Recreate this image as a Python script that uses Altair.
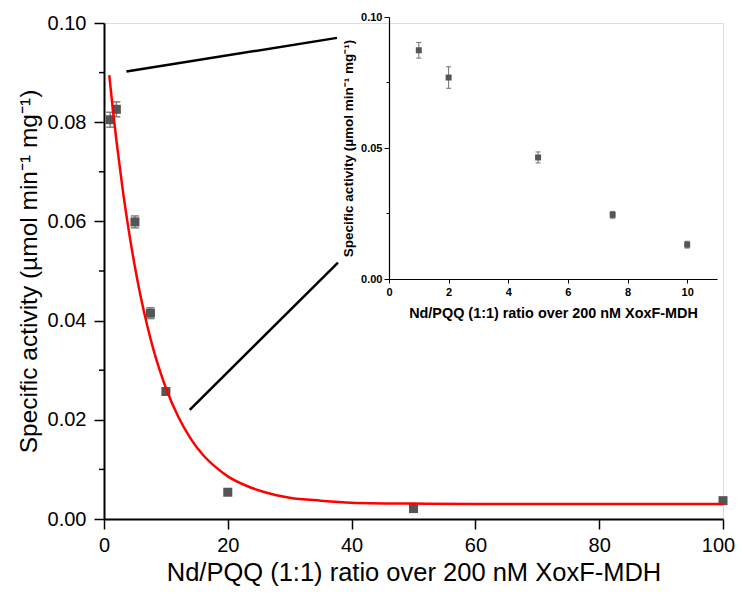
import altair as alt
import pandas as pd

# ---------------- data ----------------
main_x = [1, 2, 5, 7.5, 10, 20, 50, 100]
main_y = [0.0805, 0.0826, 0.0599, 0.0415, 0.0257, 0.0054, 0.0021, 0.0037]
main_err = [0.0015, 0.0015, 0.0012, 0.0011, 0.0005, 0.0003, 0.0003, 0.0006]

fit_x = [0.85, 1, 1.5, 2, 3, 4, 5, 6, 7, 8, 9, 10, 12, 14, 16, 18, 20, 23, 26, 30, 35, 40, 50, 60, 80, 100]
fit_y = [0.0895, 0.0877, 0.0818, 0.0764, 0.0666, 0.0582, 0.0508, 0.0444, 0.0389, 0.0341,
         0.0300, 0.0264, 0.0206, 0.0162, 0.0129, 0.0105, 0.0086, 0.0067, 0.0054, 0.0043,
         0.0037, 0.0033, 0.0031, 0.0030, 0.0030, 0.0030]

inset_x = [1, 2, 5, 7.5, 10]
inset_y = [0.0873, 0.0769, 0.0464, 0.0245, 0.0131]
inset_err = [0.0030, 0.0041, 0.0021, 0.0013, 0.0013]

connector_id = ["a", "a", "b", "b"]
connector_x = [3.62, 37.64, 13.85, 37.8]
connector_y = [0.0902, 0.0970, 0.0220, 0.0517]

main_x_ticks = [0, 20, 40, 60, 80, 100]
main_y_ticks = [0.00, 0.02, 0.04, 0.06, 0.08, 0.10]
main_y_minor = [0.01, 0.03, 0.05, 0.07, 0.09]
inset_x_ticks = [0, 2, 4, 6, 8, 10]
inset_y_ticks = [0.00, 0.05, 0.10]
inset_y_minor = [0.025, 0.075]

x_title = "Nd/PQQ (1:1) ratio over 200 nM XoxF-MDH"
y_title = "Specific activity (\u00b5mol min\u207b\u00b9 mg\u207b\u00b9)"

# ---------------- layout ----------------
W, H = 619, 496
IN_X0, IN_X1 = 285, 613
IN_Y0, IN_Y1 = 256, -6
FONT = "Liberation Sans"

main_df = pd.DataFrame({"x": main_x, "y": main_y, "e": main_err})
main_df["lo"] = main_df["y"] - main_df["e"]
main_df["hi"] = main_df["y"] + main_df["e"]
fit_df = pd.DataFrame({"x": fit_x, "y": fit_y})
in_df = pd.DataFrame({"x": inset_x, "y": inset_y, "e": inset_err})
in_df["lo"] = in_df["y"] - in_df["e"]
in_df["hi"] = in_df["y"] + in_df["e"]
con_df = pd.DataFrame({"id": connector_id, "x": connector_x, "y": connector_y})

mx = alt.Scale(domain=[0, 100], nice=False)
my = alt.Scale(domain=[0, 0.10], nice=False)

x_axis = alt.Axis(values=main_x_ticks, format="d", title=x_title, grid=False, tickSize=10,
                  tickWidth=1.5, domainWidth=2, domainColor="black", tickColor="black",
                  labelFont=FONT, labelFontSize=20, labelColor="black", labelPadding=6,
                  labelFlush=False, labelOverlap=False,
                  labelOffset={"condition": {"test": "datum.value == 100", "value": -5}, "value": 0},
                  titleFont=FONT, titleFontSize=25.5, titleFontWeight="normal", titleColor="black",
                  titlePadding=5)
y_axis = alt.Axis(values=main_y_ticks, format=".2f", title=y_title, grid=False, tickSize=10,
                  tickWidth=1.5, domainWidth=2, domainColor="black", tickColor="black",
                  labelFont=FONT, labelFontSize=20, labelColor="black", labelPadding=8,
                  labelFlush=False, labelOverlap=False,
                  titleFont=FONT, titleFontSize=24.5, titleFontWeight="normal", titleColor="black",
                  titlePadding=6)

base_err = alt.Chart(main_df)
err_rule = base_err.mark_rule(color="#808080", strokeWidth=1.5).encode(
    x=alt.X("x:Q", scale=mx, axis=x_axis), y=alt.Y("lo:Q", scale=my, axis=y_axis), y2="hi:Q")
cap_hi = base_err.mark_rule(color="#808080", strokeWidth=1.5, xOffset=-4, x2Offset=4).encode(
    x=alt.X("x:Q", scale=mx), x2="x:Q", y=alt.Y("hi:Q", scale=my))
cap_lo = base_err.mark_rule(color="#808080", strokeWidth=1.5, xOffset=-4, x2Offset=4).encode(
    x=alt.X("x:Q", scale=mx), x2="x:Q", y=alt.Y("lo:Q", scale=my))
pts = base_err.mark_square(size=81, color="#555555", opacity=1).encode(
    x=alt.X("x:Q", scale=mx), y=alt.Y("y:Q", scale=my))
fit = alt.Chart(fit_df).mark_line(color="#ff0000", strokeWidth=2.5, interpolate="monotone").encode(
    x=alt.X("x:Q", scale=mx), y=alt.Y("y:Q", scale=my))
con = alt.Chart(con_df).mark_line(color="black", strokeWidth=2.5).encode(
    x=alt.X("x:Q", scale=mx), y=alt.Y("y:Q", scale=my), detail="id:N")
minor = alt.Chart(pd.DataFrame({"y": main_y_minor})).mark_rule(color="black", strokeWidth=1.5).encode(
    y=alt.Y("y:Q", scale=my), x=alt.value(-5), x2=alt.value(0))

main = alt.layer(err_rule, cap_hi, cap_lo, pts, fit, con, minor)

# ---------------- inset ----------------
ix = alt.Scale(domain=[0, 11], range=[IN_X0, IN_X1], nice=False)
iy = alt.Scale(domain=[0, 0.10], range=[IN_Y0, IN_Y1], nice=False)
ix_axis = alt.Axis(orient="bottom", offset=IN_Y0 - H, values=inset_x_ticks, format="d", title=x_title,
                   grid=False, tickSize=4, tickWidth=1, domainWidth=1.2, domainColor="black",
                   tickColor="black", labelFont=FONT, labelFontSize=11, labelFontWeight="bold",
                   labelColor="black", labelPadding=3, labelFlush=False, labelOverlap=False,
                   titleFont=FONT, titleFontSize=14.4, titleFontWeight="bold", titleColor="black",
                   titlePadding=9)
iy_axis = alt.Axis(orient="left", offset=-IN_X0, values=inset_y_ticks, format=".2f", title=y_title,
                   grid=False, tickSize=5, tickWidth=1, domainWidth=1.2, domainColor="black",
                   tickColor="black", labelFont=FONT, labelFontSize=11, labelFontWeight="bold",
                   labelColor="black", labelPadding=2, labelFlush=False, labelOverlap=False,
                   titleFont=FONT, titleFontSize=13.5, titleFontWeight="bold", titleColor="black",
                   titlePadding=5)

ib = alt.Chart(in_df)
i_err = ib.mark_rule(color="#707070", strokeWidth=1).encode(
    x=alt.X("x:Q", scale=ix, axis=ix_axis), y=alt.Y("lo:Q", scale=iy, axis=iy_axis), y2="hi:Q")
i_cap_hi = ib.mark_rule(color="#707070", strokeWidth=1, xOffset=-2.5, x2Offset=2.5).encode(
    x=alt.X("x:Q", scale=ix), x2="x:Q", y=alt.Y("hi:Q", scale=iy))
i_cap_lo = ib.mark_rule(color="#707070", strokeWidth=1, xOffset=-2.5, x2Offset=2.5).encode(
    x=alt.X("x:Q", scale=ix), x2="x:Q", y=alt.Y("lo:Q", scale=iy))
i_pts = ib.mark_square(size=36, color="#555555", opacity=1).encode(
    x=alt.X("x:Q", scale=ix), y=alt.Y("y:Q", scale=iy))
i_minor = alt.Chart(pd.DataFrame({"y": inset_y_minor})).mark_rule(color="black", strokeWidth=1).encode(
    y=alt.Y("y:Q", scale=iy), x=alt.value(IN_X0 - 2.5), x2=alt.value(IN_X0))

inset = alt.layer(i_err, i_cap_hi, i_cap_lo, i_pts, i_minor)

chart = alt.layer(main, inset).resolve_scale(x="independent", y="independent").properties(
    width=W, height=H,
    autosize=alt.AutoSizeParams(type="none"),
    padding={"left": 96, "top": 15, "right": 12, "bottom": 70},
).configure_view(stroke=None).configure(background="white")

chart.save("out.html", embed_options={"renderer": "svg", "actions": False})
